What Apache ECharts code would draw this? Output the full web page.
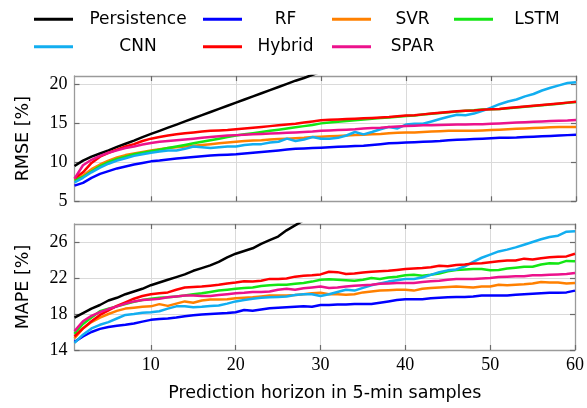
<!DOCTYPE html>
<html><head><meta charset="utf-8">
<script src="https://cdn.jsdelivr.net/npm/echarts@6/dist/echarts.min.js"></script>
<style>html,body{margin:0;padding:0;background:#fff}#c{width:587px;height:408px}</style>
</head><body><div id="c"></div>
<script>
const horizon = [1,2,3,4,5,6,7,8,9,10,11,12,13,14,15,16,17,18,19,20,21,22,23,24,25,26,27,28,29,30,
  31,32,33,34,35,36,37,38,39,40,41,42,43,44,45,46,47,48,49,50,51,52,53,54,55,56,57,58,59,60];
const xTickLabels = [10,20,30,40,50,60];
const rmseTicks = [5,10,15,20];
const mapeTicks = [14,18,22,26];
const seriesNames = ['Persistence','RF','SVR','LSTM','CNN','Hybrid','SPAR'];

// RMSE [%]
const rmsePersistence = [9.5,10.2,10.7,11.1,11.5,11.95,12.35,12.75,13.2,13.6,14.0,14.4,14.8,15.2,15.6,16.0,16.4,16.8,17.2,17.6,18.0,18.4,18.8,19.2,19.6,20.0,20.4,20.75,21.15,21.55];
const rmseRF = [7.0,7.35,8.0,8.5,8.85,9.2,9.45,9.7,9.9,10.1,10.2,10.35,10.45,10.55,10.65,10.75,10.85,10.9,10.95,11.0,11.1,11.2,11.3,11.4,11.5,11.6,11.7,11.75,11.8,11.85,11.9,11.95,12.0,12.05,12.1,12.2,12.3,12.4,12.45,12.5,12.55,12.6,12.65,12.7,12.8,12.85,12.9,12.95,13.0,13.05,13.1,13.12,13.15,13.2,13.25,13.3,13.35,13.4,13.45,13.5];
const rmseSVR = [7.7,8.3,9.1,9.7,10.2,10.6,10.9,11.1,11.3,11.5,11.65,11.8,11.9,12.0,12.1,12.2,12.3,12.4,12.5,12.6,12.7,12.75,12.8,12.9,12.95,13.0,13.05,13.1,13.2,13.25,13.3,13.35,13.4,13.45,13.5,13.55,13.6,13.7,13.75,13.8,13.8,13.85,13.9,13.95,14.0,14.0,14.0,14.0,14.05,14.1,14.15,14.2,14.25,14.3,14.35,14.4,14.45,14.5,14.5,14.5];
const rmseLSTM = [7.7,8.1,8.8,9.5,10.0,10.4,10.7,11.0,11.2,11.4,11.6,11.8,12.0,12.2,12.4,12.6,12.8,13.0,13.2,13.4,13.55,13.7,13.85,14.0,14.15,14.3,14.45,14.6,14.75,14.95,15.05,15.15,15.25,15.35,15.45,15.55,15.65,15.7,15.8,15.9,15.97,16.07,16.17,16.27,16.37,16.47,16.55,16.62,16.72,16.77,16.8,16.88,16.97,17.07,17.17,17.27,17.37,17.47,17.57,17.67];
const rmseCNN = [7.4,8.0,8.7,9.3,9.8,10.2,10.5,10.8,11.0,11.2,11.35,11.5,11.5,11.7,12.0,11.9,11.8,11.9,12.0,12.0,12.2,12.3,12.3,12.5,12.6,13.0,12.7,12.9,13.2,13.0,13.0,13.1,13.4,13.85,13.55,13.85,14.2,14.5,14.3,14.8,14.9,14.9,15.2,15.5,15.8,16.05,16.0,16.2,16.55,16.95,17.4,17.75,18.0,18.4,18.7,19.15,19.5,19.8,20.1,20.2];
const rmseHybrid = [7.9,8.7,9.9,10.7,11.2,11.6,12.0,12.3,12.7,13.0,13.2,13.4,13.55,13.7,13.8,13.9,14.0,14.05,14.1,14.2,14.3,14.4,14.5,14.6,14.7,14.8,14.9,15.05,15.2,15.35,15.4,15.45,15.5,15.55,15.6,15.65,15.7,15.75,15.85,15.95,16.0,16.1,16.2,16.3,16.4,16.5,16.55,16.6,16.7,16.75,16.8,16.9,17.0,17.1,17.2,17.3,17.4,17.5,17.6,17.7];
const rmseSPAR = [7.9,9.6,10.3,10.8,11.2,11.5,11.8,12.0,12.25,12.45,12.6,12.7,12.8,12.9,13.0,13.1,13.2,13.3,13.4,13.45,13.5,13.55,13.6,13.65,13.7,13.75,13.8,13.85,13.9,14.0,14.05,14.1,14.15,14.2,14.3,14.35,14.4,14.5,14.55,14.6,14.65,14.7,14.72,14.75,14.78,14.8,14.82,14.85,14.85,14.9,14.95,15.0,15.05,15.1,15.15,15.2,15.25,15.3,15.33,15.38];

// MAPE [%]
const mapePersistence = [17.6,18.1,18.6,19.0,19.5,19.8,20.2,20.5,20.8,21.2,21.5,21.8,22.1,22.4,22.8,23.1,23.4,23.8,24.3,24.7,25.0,25.3,25.8,26.2,26.6,27.3,27.85,28.4,28.9];
const mapeRF = [14.9,15.5,16.0,16.35,16.55,16.7,16.8,16.95,17.15,17.35,17.45,17.5,17.6,17.75,17.85,17.95,18.0,18.05,18.1,18.2,18.45,18.35,18.5,18.65,18.7,18.75,18.8,18.85,18.8,19.0,19.0,19.05,19.05,19.1,19.1,19.1,19.25,19.4,19.55,19.65,19.65,19.65,19.75,19.8,19.85,19.9,19.9,19.95,20.05,20.05,20.05,20.05,20.15,20.2,20.25,20.3,20.35,20.35,20.4,20.6];
const mapeSVR = [15.3,16.4,17.1,17.6,18.0,18.35,18.6,18.7,18.8,18.85,19.1,18.9,19.15,19.4,19.25,19.5,19.6,19.6,19.65,19.75,19.8,19.85,19.95,20.05,20.05,20.05,20.1,20.2,20.3,20.35,20.2,20.2,20.15,20.2,20.4,20.5,20.6,20.65,20.7,20.7,20.6,20.8,20.9,20.95,21.0,21.05,21.0,20.95,21.05,21.05,21.25,21.2,21.25,21.3,21.4,21.55,21.5,21.5,21.4,21.45];
const mapeLSTM = [15.8,16.9,17.6,18.3,18.6,18.85,19.1,19.35,19.55,19.7,19.8,19.85,19.95,20.05,20.2,20.3,20.45,20.6,20.7,20.8,20.9,20.95,21.1,21.2,21.25,21.25,21.35,21.45,21.6,21.8,21.85,21.8,21.75,21.7,21.8,22.0,21.9,22.05,22.15,22.3,22.35,22.25,22.35,22.5,22.75,22.9,22.95,23.0,23.0,22.85,22.9,23.05,23.15,23.25,23.25,23.5,23.65,23.6,23.9,23.85];
const mapeCNN = [14.8,15.7,16.4,16.8,17.1,17.5,17.9,18.0,18.15,18.2,18.3,18.6,18.85,18.85,18.75,18.8,18.9,18.95,19.15,19.4,19.55,19.7,19.8,19.85,19.9,19.95,20.1,20.2,20.2,20.0,20.2,20.45,20.7,20.6,20.9,21.2,21.4,21.6,21.75,21.9,21.9,22.05,22.35,22.65,22.85,22.95,23.3,23.8,24.25,24.6,24.95,25.15,25.4,25.7,26.0,26.3,26.55,26.7,27.15,27.2];
const mapeHybrid = [15.5,16.4,17.2,17.9,18.4,18.9,19.3,19.7,20.0,20.2,20.3,20.4,20.7,20.95,21.0,21.05,21.15,21.25,21.4,21.5,21.65,21.6,21.7,21.9,21.9,21.95,22.15,22.25,22.3,22.4,22.7,22.65,22.45,22.5,22.6,22.7,22.75,22.8,22.9,23.0,23.05,23.1,23.2,23.35,23.3,23.45,23.5,23.6,23.65,23.75,23.85,23.95,23.95,24.15,24.05,24.2,24.3,24.35,24.4,24.7];
const mapeSPAR = [16.1,17.2,17.8,18.2,18.55,18.85,19.15,19.4,19.55,19.6,19.7,19.85,19.95,20.05,20.05,20.0,20.0,20.1,20.2,20.3,20.35,20.45,20.45,20.5,20.7,20.8,20.7,20.85,20.95,21.05,20.9,20.95,21.05,21.15,21.2,21.25,21.35,21.4,21.45,21.45,21.45,21.55,21.65,21.7,21.8,21.9,21.9,21.9,21.95,22.0,22.1,22.15,22.2,22.2,22.3,22.3,22.35,22.4,22.45,22.55];

const colors = ['#000000','#0000ff','#ff8000','#14e614','#12aef0','#ff0000','#ec128c'];
const rmseData = [rmsePersistence,rmseRF,rmseSVR,rmseLSTM,rmseCNN,rmseHybrid,rmseSPAR];
const mapeData = [mapePersistence,mapeRF,mapeSVR,mapeLSTM,mapeCNN,mapeHybrid,mapeSPAR];

const serif = 'Liberation Serif';
const sans = 'DejaVu Sans';
const frame = '#9a9a9a';
const tickCol = '#6a6a6a';
const gridCol = '#dadada';
const showTen = (i, v) => xTickLabels.indexOf(Number(v)) >= 0;

function xAxis(gridIndex, pos, labels, name) {
  return {
    type: 'category', gridIndex, position: pos, data: horizon.map(String), boundaryGap: false,
    axisLine: {show: true, lineStyle: {color: frame, width: 1.3}},
    axisTick: {show: true, inside: true, length: 5, interval: showTen, lineStyle: {color: tickCol, width: 1.2}},
    axisLabel: {show: labels, interval: showTen, color: '#000', fontFamily: serif, fontSize: 18, margin: 6},
    splitLine: {show: pos === 'bottom', interval: showTen, lineStyle: {color: gridCol, width: 1}},
    name: name || '', nameLocation: 'middle', nameGap: 34,
    nameTextStyle: {fontFamily: sans, fontSize: 17.5, color: '#000'}
  };
}
function yAxis(gridIndex, pos, min, max, ticks, name) {
  const left = pos === 'left';
  return {
    type: 'value', gridIndex, position: pos, min, max,
    axisLine: {show: true, lineStyle: {color: frame, width: 1.3}},
    axisTick: {show: true, inside: true, length: 5, customValues: ticks, lineStyle: {color: tickCol, width: 1.2}},
    axisLabel: {show: left, customValues: ticks, color: '#000', fontFamily: serif, fontSize: 18, margin: 7},
    splitLine: {show: left, lineStyle: {color: gridCol, width: 1}},
    name: name || '', nameLocation: 'middle', nameGap: 42, nameRotate: 90,
    nameTextStyle: {fontFamily: sans, fontSize: 17.5, color: '#000'}
  };
}

const legendCells = [
  {name: 'Persistence', left: 34, row: 0, w: 120},
  {name: 'RF', left: 203, row: 0, w: 77},
  {name: 'SVR', left: 332, row: 0, w: 73},
  {name: 'LSTM', left: 454, row: 0, w: 78},
  {name: 'CNN', left: 34, row: 1, w: 120},
  {name: 'Hybrid', left: 203, row: 1, w: 77},
  {name: 'SPAR', left: 332, row: 1, w: 73}
];
const rowY = [18.3, 45.7];

const legends = legendCells.map(c => ({
  data: [c.name], left: c.left, top: rowY[c.row] - 7.5, icon: 'rect', itemWidth: 39, itemHeight: 3,
  padding: 0, selectedMode: false,
  formatter: n => '{t|' + n + '}',
  textStyle: {fontFamily: sans, fontSize: 17, color: '#000',
    rich: {t: {width: c.w, align: 'center', fontFamily: sans, fontSize: 17, color: '#000'}}}
}));

const series = [];
seriesNames.forEach((n, i) => {
  series.push({name: n, type: 'line', xAxisIndex: 0, yAxisIndex: 0, data: rmseData[i], showSymbol: false,
    lineStyle: {color: colors[i], width: 2.5}, itemStyle: {color: colors[i]}, clip: true});
  series.push({name: n, type: 'line', xAxisIndex: 2, yAxisIndex: 2, data: mapeData[i], showSymbol: false,
    lineStyle: {color: colors[i], width: 2.5}, itemStyle: {color: colors[i]}, clip: true});
});

const chart = echarts.init(document.getElementById('c'), null, {renderer: 'canvas'});
chart.setOption({
  animation: false,
  backgroundColor: '#fff',
  legend: legends,
  grid: [
    {left: 74.5, right: 11, top: 76, height: 125.3},
    {left: 74.5, right: 11, top: 224, height: 126}
  ],
  xAxis: [
    xAxis(0, 'bottom', false), xAxis(0, 'top', false),
    xAxis(1, 'bottom', true, 'Prediction horizon in 5-min samples'), xAxis(1, 'top', false)
  ],
  yAxis: [
    yAxis(0, 'left', 5, 21, rmseTicks, 'RMSE [%]'), yAxis(0, 'right', 5, 21, rmseTicks),
    yAxis(1, 'left', 14, 28, mapeTicks, 'MAPE [%]'), yAxis(1, 'right', 14, 28, mapeTicks)
  ],
  series
});
</script></body></html>
